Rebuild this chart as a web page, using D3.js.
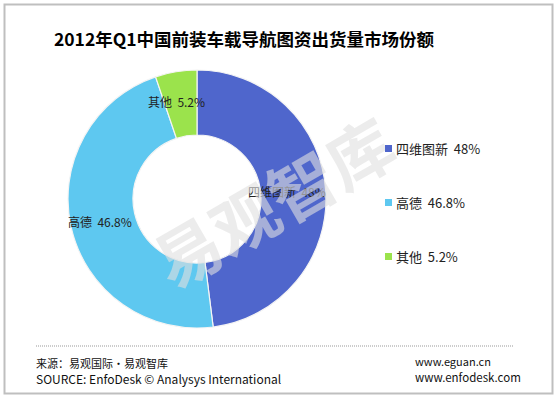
<!DOCTYPE html>
<meta charset="utf-8">
<html lang="zh">
<head>
<title>2012年Q1中国前装车载导航图资出货量市场份额</title>
<script src="https://d3js.org/d3.v7.min.js"></script>
<style>
  body { margin: 0; background: #fff; }
  text { font-family: "Noto Sans CJK SC", "DejaVu Sans", sans-serif; white-space: pre; }
</style>
</head>
<body>
<div id="chart"></div>
<script>
// data
var names = ["四维图新", "高德", "其他"];
var shares = [48, 46.8, 5.2];
var valueText = ["48%", "46.8%", "5.2%"];
var colors = ["#4f66cc", "#5ec8f0", "#9be34c"];
var labels = names.map(function(n, i){ return n + "  " + valueText[i]; });

var W = 557, H = 398;
var svg = d3.select("#chart").append("svg")
    .attr("width", W).attr("height", H);

// frame
svg.append("rect")
    .attr("x", 4.5).attr("y", 4.5)
    .attr("width", W - 9).attr("height", H - 9)
    .attr("fill", "#fff")
    .attr("stroke", "#bfbfbf").attr("stroke-width", 2);

// title
svg.append("text")
    .attr("x", 244).attr("y", 46)
    .attr("text-anchor", "middle")
    .style("font-size", "17.5px").style("font-weight", "bold")
    .text("2012年Q1中国前装车载导航图资出货量市场份额");

// donut
var cx = 197, cy = 199, rOut = 129, rIn = 64;
var pie = d3.pie().sort(null).value(function(d){ return d; });
var arc = d3.arc().innerRadius(rIn).outerRadius(rOut);
var arcs = pie(shares);

var g = svg.append("g").attr("transform", "translate(" + cx + "," + cy + ")");
g.selectAll("path.slice")
    .data(arcs)
    .enter().append("path")
    .attr("class", "slice")
    .attr("d", arc)
    .attr("fill", function(d, i){ return colors[i]; })
    .attr("stroke", "#f4f4f4").attr("stroke-width", 1.2);

// watermark
svg.append("text")
    .attr("transform", "translate(272,200) rotate(-30)")
    .attr("text-anchor", "middle")
    .attr("dominant-baseline", "central")
    .style("font-size", "66px").style("font-weight", "bold")
    .attr("fill", "#e0e0e0").attr("opacity", 0.6)
    .text("易观智库");

// slice labels
var labelPos = [[rIn - 13, -2], [-rIn - 65, 28], [-49, -92]];
g.selectAll("text.lbl")
    .data(arcs)
    .enter().append("text")
    .attr("class", "lbl")
    .attr("x", function(d, i){ return labelPos[i][0]; })
    .attr("y", function(d, i){ return labelPos[i][1]; })
    .style("font-size", "12px")
    .attr("fill", "#222")
    .text(function(d, i){ return labels[i]; });

// legend
var legend = svg.append("g").attr("transform", "translate(385,150)");
var items = legend.selectAll("g")
    .data(labels)
    .enter().append("g")
    .attr("transform", function(d, i){ return "translate(0," + (i * 54) + ")"; });
items.append("rect")
    .attr("x", 0).attr("y", -5)
    .attr("width", 7).attr("height", 7)
    .attr("fill", function(d, i){ return colors[i]; });
items.append("text")
    .attr("x", 11).attr("y", 4)
    .style("font-size", "13px")
    .attr("fill", "#222")
    .text(function(d){ return d; });

// footer
svg.append("line")
    .attr("x1", 36).attr("x2", 514)
    .attr("y1", 346).attr("y2", 346)
    .attr("stroke", "#999").attr("stroke-width", 1)
    .attr("stroke-dasharray", "1,1");

var foot = [
  {t: "来源：易观国际・易观智库", x: 36, y: 368, s: 11},
  {t: "SOURCE: EnfoDesk © Analysys International", x: 36, y: 384, s: 12},
  {t: "www.eguan.cn", x: 415, y: 366, s: 11},
  {t: "www.enfodesk.com", x: 415, y: 382, s: 11.5}
];
svg.selectAll("text.foot")
    .data(foot)
    .enter().append("text")
    .attr("class", "foot")
    .attr("x", function(d){ return d.x; })
    .attr("y", function(d){ return d.y; })
    .style("font-size", function(d){ return d.s + "px"; })
    .attr("fill", "#111")
    .text(function(d){ return d.t; });
</script>
</body>
</html>
